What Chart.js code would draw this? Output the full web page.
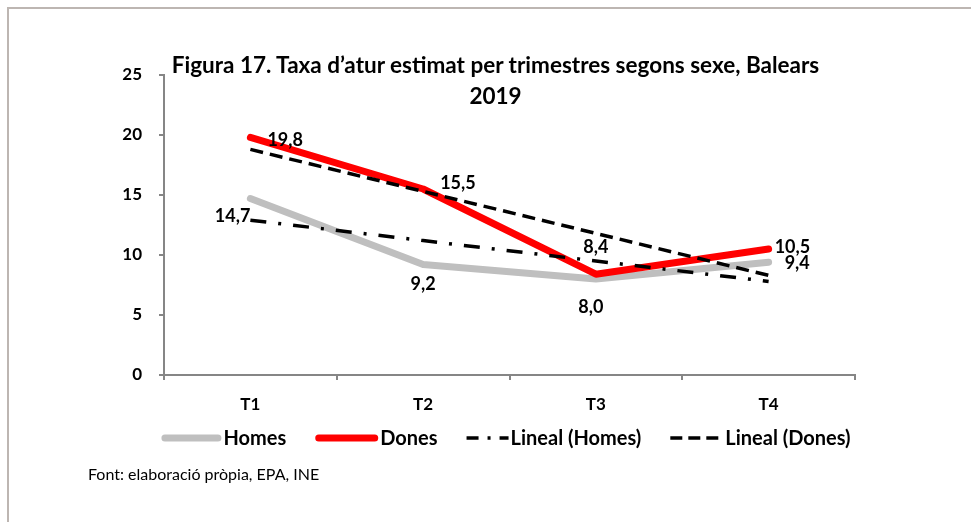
<!DOCTYPE html>
<html><head><meta charset="utf-8">
<script src="https://cdn.jsdelivr.net/npm/chart.js@4/dist/chart.umd.min.js"></script>
<style>
html,body{margin:0;padding:0;background:#fff;}
#wrap{position:relative;width:971px;height:522px;overflow:hidden;background:#fff;}
#frame{position:absolute;left:7px;top:7px;width:1000px;height:600px;border-top:2px solid #bdb6b2;border-left:2px solid #bdb6b2;}
#title{position:absolute;left:0;width:991px;top:49px;text-align:center;font-family:Lato;font-weight:bold;font-size:22.5px;line-height:31px;color:#000;z-index:2;}
#note{position:absolute;left:88px;top:464px;font-family:Lato;font-size:16px;color:#000;z-index:2;}
canvas{position:absolute;left:0;top:0;z-index:1;}
</style></head>
<body><div id="wrap"><div id="frame"></div><canvas id="c" width="971" height="522"></canvas><div id="title">Figura 17. Taxa d’atur estimat per trimestres segons sexe, Balears<br>2019</div><div id="note">Font: elaboració pròpia, EPA, INE</div></div>
<script>
const categories = ['T1', 'T2', 'T3', 'T4'];
const homes = [14.7, 9.2, 8.0, 9.4];
const dones = [19.8, 15.5, 8.4, 10.5];
const linealHomes = [12.9, 11.2, 9.5, 7.8];
const linealDones = [18.8, 15.3, 11.8, 8.3];
const yTicks = [0, 5, 10, 15, 20, 25];

// label placement (pixel offsets from point): [dx, dy, align]
const homesLabelPos = [[0, 18, 'right'], [0, 20, 'center'], [-5, 28, 'center'], [16, 1, 'left']];
const donesLabelPos = [[17, 3, 'left'], [17, -6, 'left'], [0, -27, 'center'], [6, -2, 'left']];

const FONT = 'Lato';

const labelPlugin = {
  id: 'pointLabels',
  afterDatasetsDraw(chart) {
    const ctx = chart.ctx;
    ctx.save();
    ctx.font = 'bold 18px ' + FONT;
    ctx.fillStyle = '#000';
    ctx.textBaseline = 'middle';
    chart.data.datasets.forEach((ds, i) => {
      if (!ds.labelPos) return;
      const meta = chart.getDatasetMeta(i);
      meta.data.forEach((pt, j) => {
        const p = ds.labelPos[j];
        ctx.textAlign = p[2];
        ctx.fillText(ds.data[j].toFixed(1).replace('.', ','), pt.x + p[0], pt.y + p[1]);
      });
    });
    ctx.restore();
  }
};

const legendPlugin = {
  id: 'customLegend',
  afterDraw(chart) {
    const ctx = chart.ctx;
    ctx.save();
    ctx.font = 'bold 20px ' + FONT;
    ctx.textBaseline = 'middle';
    ctx.textAlign = 'left';
    const gap = 2, spacing = 29, cy = 438, cx = 506;
    const items = chart.data.datasets.map(ds => ({ ds, tw: ctx.measureText(ds.label).width, len: ds.legendLen }));
    let total = 0;
    items.forEach((it, k) => { total += it.len + gap + it.tw + (k < items.length - 1 ? spacing : 0); });
    let x = cx - total / 2;
    items.forEach(it => {
      const ds = it.ds;
      ctx.save();
      ctx.strokeStyle = ds.borderColor;
      ctx.lineWidth = ds.borderWidth;
      ctx.lineCap = ds.borderCapStyle || 'butt';
      ctx.setLineDash(ds.legendDash || ds.borderDash || []);
      const cap = ctx.lineCap === 'round' ? ds.borderWidth / 2 : 0;
      ctx.beginPath();
      ctx.moveTo(x + cap, cy);
      ctx.lineTo(x + it.len - cap, cy);
      ctx.stroke();
      ctx.restore();
      ctx.fillStyle = '#000';
      ctx.fillText(ds.label, x + it.len + gap, cy + 1);
      x += it.len + gap + it.tw + spacing;
    });
    ctx.restore();
  }
};

new Chart(document.getElementById('c'), {
  type: 'line',
  data: {
    labels: categories,
    datasets: [
      { label: 'Homes', data: homes, borderColor: '#BFBFBF', borderWidth: 7, borderCapStyle: 'round', borderJoinStyle: 'round', pointRadius: 0, tension: 0, order: 4, labelPos: homesLabelPos, legendLen: 60 },
      { label: 'Dones', data: dones, borderColor: '#FF0000', borderWidth: 7, borderCapStyle: 'round', borderJoinStyle: 'round', pointRadius: 0, tension: 0, order: 3, labelPos: donesLabelPos, legendLen: 63 },
      { label: 'Lineal (Homes)', data: linealHomes, borderColor: '#000000', borderWidth: 3.5, borderDash: [16, 12, 3, 12], legendDash: [12, 9, 3, 9], pointRadius: 0, tension: 0, order: 2, legendLen: 42 },
      { label: 'Lineal (Dones)', data: linealDones, borderColor: '#000000', borderWidth: 3.5, borderDash: [13, 7], legendDash: [12, 6], pointRadius: 0, tension: 0, order: 1, legendLen: 53 }
    ]
  },
  options: {
    responsive: false,
    animation: false,
    devicePixelRatio: 1,
    layout: { padding: { left: 60, right: 116, top: 75, bottom: 107 } },
    plugins: { legend: { display: false }, tooltip: { enabled: false }, title: { display: false } },
    scales: {
      x: {
        offset: true,
        grid: { display: true, drawOnChartArea: false, offset: true, color: '#868686', lineWidth: 2, tickLength: 5 },
        border: { display: true, color: '#868686', width: 2 },
        ticks: { color: '#000', font: { family: FONT, weight: 'bold', size: 17 }, padding: 14, maxRotation: 0 },
        afterFit(s) { s.height = 40; }
      },
      y: {
        min: 0, max: 25,
        afterBuildTicks(s) { s.ticks = yTicks.map(v => ({ value: v })); },
        grid: { display: true, drawOnChartArea: false, color: '#868686', lineWidth: 2, tickLength: 5 },
        border: { display: true, color: '#868686', width: 2 },
        ticks: { color: '#000', font: { family: FONT, weight: 'bold', size: 17 }, padding: 17 },
        afterFit(s) { s.width = 104; }
      }
    }
  },
  plugins: [labelPlugin, legendPlugin]
});
</script>
</body></html>
